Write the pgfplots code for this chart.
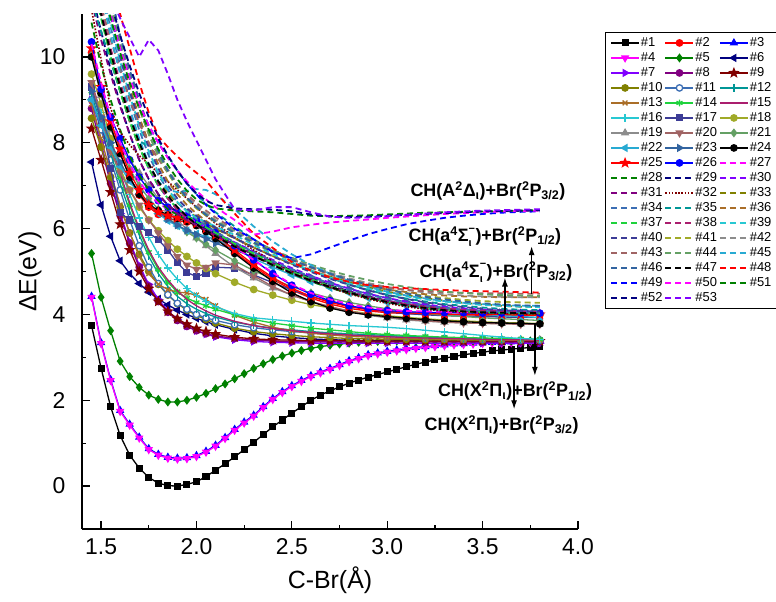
\documentclass[border=0pt]{standalone}
\usepackage{fontspec}
\setmainfont{Liberation Sans}
\usepackage{pgfplots}
\pgfplotsset{compat=1.18}
\usetikzlibrary{arrows.meta,plotmarks}

\definecolor{c1}{RGB}{0,0,0}
\definecolor{c2}{RGB}{255,0,0}
\definecolor{c3}{RGB}{0,0,255}
\definecolor{c4}{RGB}{255,0,255}
\definecolor{c5}{RGB}{0,128,0}
\definecolor{c6}{RGB}{0,0,128}
\definecolor{c7}{RGB}{128,0,255}
\definecolor{c8}{RGB}{128,0,128}
\definecolor{c9}{RGB}{128,0,0}
\definecolor{c10}{RGB}{128,128,0}
\definecolor{c11}{RGB}{60,110,180}
\definecolor{c12}{RGB}{0,150,150}
\definecolor{c13}{RGB}{170,110,40}
\definecolor{c14}{RGB}{30,210,60}
\definecolor{c15}{RGB}{170,30,110}
\definecolor{c16}{RGB}{40,200,210}
\definecolor{c17}{RGB}{60,60,150}
\definecolor{c18}{RGB}{160,170,40}
\definecolor{c19}{RGB}{140,140,140}
\definecolor{c20}{RGB}{160,100,100}
\definecolor{c21}{RGB}{100,160,100}
\definecolor{c22}{RGB}{40,170,210}
\definecolor{c23}{RGB}{50,100,160}

\pgfdeclareplotmark{fstar}{%
  \pgfpathmoveto{\pgfpointpolar{90}{1.3\pgfplotmarksize}}%
  \pgfpathlineto{\pgfpointpolar{126}{0.55\pgfplotmarksize}}%
  \pgfpathlineto{\pgfpointpolar{162}{1.3\pgfplotmarksize}}%
  \pgfpathlineto{\pgfpointpolar{198}{0.55\pgfplotmarksize}}%
  \pgfpathlineto{\pgfpointpolar{234}{1.3\pgfplotmarksize}}%
  \pgfpathlineto{\pgfpointpolar{270}{0.55\pgfplotmarksize}}%
  \pgfpathlineto{\pgfpointpolar{306}{1.3\pgfplotmarksize}}%
  \pgfpathlineto{\pgfpointpolar{342}{0.55\pgfplotmarksize}}%
  \pgfpathlineto{\pgfpointpolar{18}{1.3\pgfplotmarksize}}%
  \pgfpathlineto{\pgfpointpolar{54}{0.55\pgfplotmarksize}}%
  \pgfpathclose
  \pgfusepathqfillstroke}

% stacked super/subscript (Sigma^- with iota below)
\newcommand\sps[2]{\rlap{\raisebox{0.52em}{\fontsize{11}{11}\selectfont #1}}\raisebox{-0.3em}{\makebox[0.38em][l]{\fontsize{11}{11}\selectfont #2}}}

\pgfplotsset{
  mk/.style={line width=1.3bp, mark size=3.2bp},
  dsh/.style={line width=1.8bp, dash pattern=on 6bp off 4bp},
}

\begin{document}
\begin{tikzpicture}
\begin{axis}[
  at={(0,0)}, anchor=south west,
  scale only axis,
  width=496bp, height=515bp,
  xmin=1.4, xmax=4.0, ymin=-1, ymax=11,
  axis x line*=bottom, axis y line*=left,
  axis line style={line width=1.2bp},
  xtick={1.5,2.0,...,4.0}, ytick={0,2,...,10},
  minor x tick num=1, minor y tick num=1,
  tick align=inside,
  major tick length=8bp, minor tick length=4.5bp,
  tick style={line width=1.2bp, black},
  /pgf/number format/assume math mode=true,
  tick label style={font=\fontsize{23}{23}\selectfont},
  xticklabel style={yshift=-6bp, /pgf/number format/fixed, /pgf/number format/fixed zerofill, /pgf/number format/precision=1},
  yticklabel style={xshift=-13bp},
  label style={font=\fontsize{25}{25}\selectfont},
  xlabel={C-Br(Å)}, ylabel={ΔE(eV)},
  xlabel style={at={(axis description cs:0.5,-0.10)}, anchor=center},
  ylabel style={at={(axis description cs:-0.105,0.5)}, anchor=center},
  clip mode=individual,
  legend columns=3,
  legend cell align=left,
  legend image code/.code={\draw[mark repeat=2,mark phase=2] plot coordinates {(0bp,0bp) (14bp,0bp) (28bp,0bp)};},
  legend style={at={(axis description cs:1.054,0.965)}, anchor=north west,
    font=\fontsize{13}{13}\selectfont, draw=black, line width=0.8bp,
    inner xsep=5bp, inner ysep=3bp,
    nodes={inner sep=1bp, text height=10bp, text depth=3bp},
    /tikz/every even column/.append style={column sep=1bp}},
  legend entries={\#1,\#2,\#3,\#4,\#5,\#6,\#7,\#8,\#9,\#10,\#11,\#12,\#13,\#14,\#15,\#16,\#17,\#18,\#19,\#20,\#21,\#22,\#23,\#24,\#25,\#26,\#27,\#28,\#29,\#30,\#31,\#32,\#33,\#34,\#35,\#36,\#37,\#38,\#39,\#40,\#41,\#42,\#43,\#44,\#45,\#46,\#47,\#48,\#49,\#50,\#51,\#52,\#53},
]
% #1
\addplot[mk, c1, mark=square*, mark size=2.9bp] coordinates {(1.45,3.74)(1.5,2.75)(1.55,1.85)(1.6,1.18)(1.65,0.72)(1.7,0.42)(1.75,0.20)(1.8,0.07)(1.85,0.01)(1.9,0.00)(1.95,0.04)(2,0.10)(2.05,0.22)(2.1,0.37)(2.15,0.52)(2.2,0.68)(2.25,0.85)(2.3,1.02)(2.35,1.20)(2.4,1.38)(2.45,1.54)(2.5,1.70)(2.55,1.85)(2.6,2.00)(2.65,2.12)(2.7,2.22)(2.75,2.31)(2.8,2.40)(2.85,2.47)(2.9,2.54)(2.95,2.60)(3,2.66)(3.05,2.72)(3.1,2.78)(3.15,2.84)(3.2,2.89)(3.25,2.94)(3.3,2.98)(3.35,3.02)(3.4,3.06)(3.45,3.09)(3.5,3.12)(3.55,3.15)(3.6,3.17)(3.65,3.19)(3.7,3.21)(3.75,3.23)(3.8,3.25)};
% #2
\addplot[mk, c2, mark=*] coordinates {(1.45,10.1)(1.5,9.2)(1.55,8.4)(1.6,7.75)(1.65,7.2)(1.7,6.78)(1.75,6.5)(1.8,6.33)(1.85,6.25)(1.9,6.18)(1.95,6.15)(2,6.08)(2.05,5.95)(2.1,5.80)(2.2,5.45)(2.3,5.12)(2.4,4.82)(2.5,4.57)(2.6,4.38)(2.7,4.24)(2.8,4.14)(2.9,4.08)(3,4.04)(3.1,4.02)(3.2,4.00)(3.3,3.99)(3.4,3.99)(3.5,3.98)(3.6,3.98)(3.7,3.98)(3.8,3.98)};
% #3
\addplot[mk, c3, mark=triangle*, mark size=3.6bp] coordinates {(1.45,4.42)(1.5,3.34)(1.55,2.48)(1.6,1.76)(1.65,1.44)(1.7,1.14)(1.75,0.87)(1.8,0.74)(1.85,0.67)(1.9,0.65)(1.95,0.66)(2,0.71)(2.05,0.81)(2.1,0.95)(2.15,1.13)(2.2,1.32)(2.25,1.49)(2.3,1.65)(2.35,1.85)(2.4,2.04)(2.45,2.20)(2.5,2.34)(2.55,2.46)(2.6,2.57)(2.65,2.66)(2.7,2.74)(2.75,2.83)(2.8,2.92)(2.85,2.99)(2.9,3.06)(2.95,3.10)(3,3.14)(3.05,3.17)(3.1,3.20)(3.15,3.23)(3.2,3.25)(3.25,3.27)(3.3,3.29)(3.35,3.31)(3.4,3.32)(3.45,3.33)(3.5,3.34)(3.55,3.35)(3.6,3.35)(3.65,3.36)(3.7,3.36)(3.75,3.37)(3.8,3.37)};
% #4
\addplot[mk, c4, mark=triangle*, mark size=3.6bp, mark options={rotate=180}] coordinates {(1.45,4.40)(1.5,3.32)(1.55,2.46)(1.6,1.74)(1.65,1.42)(1.7,1.12)(1.75,0.85)(1.8,0.72)(1.85,0.65)(1.9,0.63)(1.95,0.64)(2,0.69)(2.05,0.79)(2.1,0.93)(2.15,1.11)(2.2,1.30)(2.25,1.47)(2.3,1.63)(2.35,1.83)(2.4,2.02)(2.45,2.18)(2.5,2.32)(2.55,2.44)(2.6,2.55)(2.65,2.64)(2.7,2.72)(2.75,2.81)(2.8,2.90)(2.85,2.97)(2.9,3.04)(2.95,3.08)(3,3.12)(3.05,3.15)(3.1,3.18)(3.15,3.21)(3.2,3.23)(3.25,3.25)(3.3,3.27)(3.35,3.29)(3.4,3.30)(3.45,3.31)(3.5,3.32)(3.55,3.33)(3.6,3.33)(3.65,3.34)(3.7,3.34)(3.75,3.35)(3.8,3.35)};
% #5
\addplot[mk, c5, mark=diamond*, mark size=3.5bp] coordinates {(1.45,5.42)(1.5,4.40)(1.55,3.62)(1.6,2.91)(1.65,2.55)(1.7,2.30)(1.75,2.12)(1.8,2.02)(1.85,1.96)(1.9,1.96)(1.95,2.00)(2,2.07)(2.05,2.16)(2.1,2.27)(2.15,2.38)(2.2,2.50)(2.25,2.62)(2.3,2.74)(2.35,2.85)(2.4,2.95)(2.45,3.03)(2.5,3.10)(2.55,3.16)(2.6,3.21)(2.65,3.25)(2.7,3.28)(2.75,3.31)(2.8,3.33)(2.85,3.35)(2.9,3.36)(2.95,3.37)(3,3.37)(3.05,3.38)(3.1,3.38)(3.15,3.38)(3.2,3.38)(3.25,3.38)(3.3,3.38)(3.35,3.38)(3.4,3.38)(3.45,3.38)(3.5,3.38)(3.55,3.38)(3.6,3.38)(3.65,3.38)(3.7,3.38)(3.75,3.38)(3.8,3.38)};
% #6
\addplot[mk, c6, mark=triangle*, mark size=3.6bp, mark options={rotate=90}] coordinates {(1.45,7.55)(1.5,6.55)(1.55,5.82)(1.6,5.25)(1.65,4.95)(1.7,4.72)(1.75,4.52)(1.8,4.36)(1.85,4.22)(1.9,4.10)(1.95,4.00)(2,3.91)(2.05,3.83)(2.1,3.76)(2.2,3.65)(2.3,3.56)(2.4,3.50)(2.5,3.46)(2.6,3.43)(2.7,3.41)(2.8,3.40)(2.9,3.39)(3,3.38)(3.1,3.38)(3.2,3.37)(3.3,3.37)(3.4,3.37)(3.5,3.37)(3.6,3.37)(3.7,3.37)(3.8,3.37)};
% #7
\addplot[mk, c7, mark=triangle*, mark size=3.6bp, mark options={rotate=-90}] coordinates {(1.45,9.00)(1.5,8.00)(1.55,7.10)(1.6,6.35)(1.65,5.70)(1.7,5.15)(1.75,4.70)(1.8,4.35)(1.85,4.08)(1.9,3.88)(1.95,3.73)(2,3.62)(2.05,3.54)(2.1,3.48)(2.2,3.41)(2.3,3.37)(2.4,3.35)(2.5,3.34)(2.6,3.33)(2.7,3.33)(2.8,3.33)(2.9,3.33)(3,3.33)(3.1,3.33)(3.2,3.33)(3.3,3.33)(3.4,3.33)(3.5,3.33)(3.6,3.33)(3.7,3.33)(3.8,3.33)};
% #8
\addplot[mk, c8, mark=*] coordinates {(1.45,8.80)(1.5,7.90)(1.55,7.05)(1.6,6.30)(1.65,5.65)(1.7,5.10)(1.75,4.65)(1.8,4.30)(1.85,4.05)(1.9,3.86)(1.95,3.72)(2,3.62)(2.05,3.55)(2.1,3.50)(2.2,3.44)(2.3,3.40)(2.4,3.38)(2.5,3.37)(2.6,3.36)(2.7,3.36)(2.8,3.36)(2.9,3.36)(3,3.36)(3.1,3.36)(3.2,3.36)(3.3,3.36)(3.4,3.36)(3.5,3.36)(3.6,3.36)(3.7,3.36)(3.8,3.36)};
% #9
\addplot[mk, c9, mark=fstar] coordinates {(1.45,8.33)(1.5,7.60)(1.55,6.85)(1.6,6.10)(1.65,5.50)(1.7,5.00)(1.75,4.60)(1.8,4.30)(1.85,4.07)(1.9,3.90)(1.95,3.77)(2,3.67)(2.05,3.60)(2.1,3.54)(2.2,3.47)(2.3,3.43)(2.4,3.41)(2.5,3.40)(2.6,3.39)(2.7,3.39)(2.8,3.39)(2.9,3.38)(3,3.38)(3.1,3.38)(3.2,3.38)(3.3,3.38)(3.4,3.38)(3.5,3.38)(3.6,3.38)(3.7,3.38)(3.8,3.38)};
% #10
\addplot[mk, c10, mark=*] coordinates {(1.45,8.57)(1.5,7.90)(1.55,7.20)(1.6,6.50)(1.65,5.90)(1.7,5.40)(1.75,5.00)(1.8,4.70)(1.85,4.45)(1.9,4.25)(1.95,4.10)(2,3.98)(2.05,3.88)(2.1,3.80)(2.2,3.68)(2.3,3.60)(2.4,3.55)(2.5,3.51)(2.6,3.48)(2.7,3.46)(2.8,3.44)(2.9,3.43)(3,3.42)(3.1,3.42)(3.2,3.41)(3.3,3.41)(3.4,3.41)(3.5,3.40)(3.6,3.40)(3.7,3.40)(3.8,3.40)};
% #11
\addplot[mk, c11, mark=*, mark options={fill=white}] coordinates {(1.45,9.00)(1.5,8.30)(1.55,7.60)(1.6,6.90)(1.65,6.20)(1.7,5.60)(1.75,5.10)(1.8,4.72)(1.85,4.46)(1.9,4.26)(1.95,4.12)(2,4.00)(2.05,3.92)(2.1,3.86)(2.2,3.76)(2.3,3.69)(2.4,3.64)(2.5,3.60)(2.6,3.57)(2.7,3.54)(2.8,3.52)(2.9,3.50)(3,3.48)(3.1,3.47)(3.2,3.45)(3.3,3.44)(3.4,3.43)(3.5,3.42)(3.6,3.41)(3.7,3.40)(3.8,3.40)};
% #12
\addplot[mk, c12, mark=|, mark size=3.8bp] coordinates {(1.45,9.10)(1.5,8.45)(1.55,7.75)(1.6,7.05)(1.65,6.40)(1.7,5.85)(1.75,5.35)(1.8,4.95)(1.85,4.65)(1.9,4.42)(1.95,4.25)(2,4.12)(2.05,4.02)(2.1,3.94)(2.2,3.82)(2.3,3.74)(2.4,3.68)(2.5,3.64)(2.6,3.60)(2.7,3.57)(2.8,3.55)(2.9,3.53)(3,3.51)(3.1,3.49)(3.2,3.47)(3.3,3.46)(3.4,3.45)(3.5,3.44)(3.6,3.43)(3.7,3.42)(3.8,3.41)};
% #13
\addplot[mk, c13, mark=x, mark size=3.4bp] coordinates {(1.45,8.90)(1.5,8.10)(1.55,7.30)(1.6,6.55)(1.65,5.90)(1.7,5.35)(1.75,4.95)(1.8,4.70)(1.85,4.58)(1.9,4.52)(1.95,4.50)(2,4.45)(2.05,4.35)(2.1,4.20)(2.2,3.98)(2.3,3.82)(2.4,3.70)(2.5,3.62)(2.6,3.56)(2.7,3.52)(2.8,3.49)(2.9,3.47)(3,3.45)(3.1,3.44)(3.2,3.43)(3.3,3.42)(3.4,3.41)(3.5,3.41)(3.6,3.40)(3.7,3.40)(3.8,3.40)};
% #14
\addplot[mk, c14, mark=asterisk, mark size=3.4bp] coordinates {(1.45,9.20)(1.5,8.60)(1.55,7.90)(1.6,7.20)(1.65,6.55)(1.7,5.95)(1.75,5.45)(1.8,5.05)(1.85,4.75)(1.9,4.52)(1.95,4.38)(2,4.28)(2.05,4.20)(2.1,4.12)(2.2,3.99)(2.3,3.88)(2.4,3.80)(2.5,3.74)(2.6,3.68)(2.7,3.64)(2.8,3.60)(2.9,3.56)(3,3.53)(3.1,3.51)(3.2,3.49)(3.3,3.47)(3.4,3.46)(3.5,3.45)(3.6,3.44)(3.7,3.43)(3.8,3.42)};
% #15
\addplot[mk, c15] coordinates {(1.45,9.40)(1.5,8.70)(1.55,8.00)(1.6,7.30)(1.65,6.60)(1.7,6.00)(1.75,5.50)(1.8,5.10)(1.85,4.80)(1.9,4.55)(1.95,4.35)(2,4.20)(2.05,4.08)(2.1,3.98)(2.2,3.84)(2.3,3.74)(2.4,3.67)(2.5,3.62)(2.6,3.58)(2.7,3.55)(2.8,3.52)(2.9,3.50)(3,3.48)(3.1,3.46)(3.2,3.45)(3.3,3.44)(3.4,3.43)(3.5,3.42)(3.6,3.41)(3.7,3.41)(3.8,3.40)};
% #16
\addplot[mk, c16, mark=+, mark size=3.8bp] coordinates {(1.45,9.30)(1.5,8.70)(1.55,8.05)(1.6,7.40)(1.65,6.80)(1.7,6.25)(1.75,5.80)(1.8,5.40)(1.85,5.08)(1.9,4.82)(1.95,4.60)(2,4.44)(2.05,4.30)(2.1,4.18)(2.2,4.02)(2.3,3.92)(2.4,3.88)(2.5,3.84)(2.6,3.80)(2.7,3.77)(2.8,3.74)(2.9,3.72)(3,3.70)(3.1,3.67)(3.2,3.63)(3.3,3.59)(3.4,3.55)(3.5,3.51)(3.6,3.47)(3.7,3.44)(3.8,3.42)};
% #17
\addplot[mk, c17, mark=square*, mark size=2.9bp] coordinates {(1.45,9.30)(1.5,8.50)(1.55,7.40)(1.6,6.37)(1.65,6.20)(1.7,6.05)(1.75,5.90)(1.8,5.74)(1.85,5.50)(1.9,5.20)(1.95,4.98)(2,4.88)(2.05,4.96)(2.1,5.10)(2.2,5.08)(2.3,4.92)(2.4,4.74)(2.5,4.57)(2.6,4.42)(2.7,4.30)(2.8,4.20)(2.9,4.12)(3,4.06)(3.1,4.02)(3.2,3.99)(3.3,3.97)(3.4,3.96)(3.5,3.95)(3.6,3.94)(3.7,3.93)(3.8,3.93)};
% #18
\addplot[mk, c18, mark=*] coordinates {(1.45,9.60)(1.5,8.90)(1.55,8.10)(1.6,7.40)(1.65,6.90)(1.7,6.50)(1.75,6.20)(1.8,5.95)(1.85,5.72)(1.9,5.52)(1.95,5.35)(2,5.20)(2.05,5.07)(2.1,4.95)(2.2,4.75)(2.3,4.58)(2.4,4.45)(2.5,4.33)(2.6,4.23)(2.7,4.15)(2.8,4.08)(2.9,4.02)(3,3.97)(3.1,3.93)(3.2,3.90)(3.3,3.87)(3.4,3.85)(3.5,3.83)(3.6,3.81)(3.7,3.80)(3.8,3.79)};
% #19
\addplot[mk, c19, mark=triangle*, mark size=3.6bp] coordinates {(1.45,10.00)(1.5,9.10)(1.55,8.30)(1.6,7.90)(1.65,7.60)(1.7,7.30)(1.75,7.00)(1.8,6.70)(1.85,6.45)(1.9,6.20)(1.95,5.98)(2,5.78)(2.05,5.60)(2.1,5.42)(2.2,5.10)(2.3,4.85)(2.4,4.62)(2.5,4.45)(2.6,4.30)(2.7,4.18)(2.8,4.07)(2.9,3.98)(3,3.92)(3.1,3.87)(3.2,3.84)(3.3,3.82)(3.4,3.80)(3.5,3.79)(3.6,3.79)(3.7,3.78)(3.8,3.78)};
% #20
\addplot[mk, c20, mark=triangle*, mark size=3.6bp, mark options={rotate=180}] coordinates {(1.45,9.40)(1.5,8.60)(1.55,7.80)(1.6,7.30)(1.65,6.90)(1.7,6.55)(1.75,6.20)(1.8,5.90)(1.85,5.60)(1.9,5.35)(1.95,5.15)(2,5.05)(2.05,5.10)(2.1,5.20)(2.2,5.15)(2.3,4.90)(2.4,4.65)(2.5,4.45)(2.6,4.30)(2.7,4.18)(2.8,4.08)(2.9,4.00)(3,3.94)(3.1,3.89)(3.2,3.85)(3.3,3.82)(3.4,3.80)(3.5,3.79)(3.6,3.78)(3.7,3.77)(3.8,3.77)};
% #21
\addplot[mk, c21, mark=diamond*, mark size=3.5bp] coordinates {(1.45,10.05)(1.5,9.20)(1.55,8.50)(1.6,7.90)(1.65,7.40)(1.7,7.00)(1.75,6.70)(1.8,6.45)(1.85,6.25)(1.9,6.08)(1.95,5.92)(2,5.78)(2.05,5.64)(2.1,5.50)(2.2,5.25)(2.3,5.02)(2.4,4.82)(2.5,4.65)(2.6,4.50)(2.7,4.38)(2.8,4.28)(2.9,4.20)(3,4.13)(3.1,4.07)(3.2,4.02)(3.3,3.98)(3.4,3.95)(3.5,3.92)(3.6,3.90)(3.7,3.88)(3.8,3.86)};
% #22
\addplot[mk, c22, mark=triangle*, mark size=3.6bp, mark options={rotate=90}] coordinates {(1.45,9.00)(1.5,8.40)(1.55,7.90)(1.6,7.45)(1.65,7.10)(1.7,6.80)(1.75,6.55)(1.8,6.35)(1.85,6.18)(1.9,6.06)(1.95,5.95)(2,5.88)(2.05,5.82)(2.1,5.75)(2.2,5.55)(2.3,5.30)(2.4,5.10)(2.5,4.92)(2.6,4.76)(2.7,4.62)(2.8,4.50)(2.9,4.38)(3,4.28)(3.1,4.20)(3.2,4.13)(3.3,4.07)(3.4,4.03)(3.5,4.00)(3.6,3.97)(3.7,3.95)(3.8,3.93)};
% #23
\addplot[mk, c23, mark=triangle*, mark size=3.6bp, mark options={rotate=-90}] coordinates {(1.45,9.20)(1.5,8.60)(1.55,8.00)(1.6,7.55)(1.65,7.15)(1.7,6.85)(1.75,6.60)(1.8,6.40)(1.85,6.22)(1.9,6.08)(1.95,5.96)(2,5.86)(2.05,5.76)(2.1,5.66)(2.2,5.50)(2.3,5.34)(2.4,5.18)(2.5,5.02)(2.6,4.87)(2.7,4.73)(2.8,4.60)(2.9,4.48)(3,4.38)(3.1,4.29)(3.2,4.22)(3.3,4.16)(3.4,4.11)(3.5,4.07)(3.6,4.04)(3.7,4.02)(3.8,4.01)};
% #24
\addplot[mk, c1, mark=*] coordinates {(1.45,10.00)(1.5,9.15)(1.55,8.37)(1.6,7.75)(1.65,7.20)(1.7,6.80)(1.75,6.55)(1.8,6.42)(1.85,6.32)(1.9,6.24)(1.95,6.17)(2,6.07)(2.05,5.93)(2.1,5.77)(2.2,5.42)(2.3,5.08)(2.4,4.77)(2.5,4.50)(2.6,4.30)(2.7,4.15)(2.8,4.05)(2.9,3.99)(3,3.95)(3.1,3.91)(3.2,3.88)(3.3,3.85)(3.4,3.83)(3.5,3.81)(3.6,3.80)(3.7,3.79)(3.8,3.78)};
% #25
\addplot[mk, c2, mark=fstar] coordinates {(1.45,10.20)(1.5,9.30)(1.55,8.50)(1.6,7.85)(1.65,7.30)(1.7,6.90)(1.75,6.55)(1.8,6.38)(1.85,6.30)(1.9,6.25)(1.95,6.20)(2,6.12)(2.05,6.00)(2.1,5.85)(2.2,5.50)(2.3,5.16)(2.4,4.86)(2.5,4.61)(2.6,4.42)(2.7,4.28)(2.8,4.18)(2.9,4.11)(3,4.07)(3.1,4.04)(3.2,4.02)(3.3,4.01)(3.4,4.00)(3.5,4.00)(3.6,4.00)(3.7,4.00)(3.8,4.00)};
% #26
\addplot[mk, c3, mark=*] coordinates {(1.45,10.35)(1.5,9.25)(1.55,8.60)(1.6,8.10)(1.65,7.60)(1.7,7.20)(1.75,6.90)(1.8,6.65)(1.85,6.50)(1.9,6.40)(1.95,6.30)(2,6.20)(2.05,6.07)(2.1,5.93)(2.2,5.60)(2.3,5.27)(2.4,4.95)(2.5,4.68)(2.6,4.47)(2.7,4.32)(2.8,4.20)(2.9,4.13)(3,4.09)(3.1,4.06)(3.2,4.05)(3.3,4.04)(3.4,4.04)(3.5,4.03)(3.6,4.03)(3.7,4.03)(3.8,4.03)};
% #27
\addplot[dsh, c4] coordinates {(1.45,10.30)(1.5,9.40)(1.55,8.60)(1.6,8.00)(1.65,7.50)(1.7,7.10)(1.75,6.80)(1.8,6.60)(1.85,6.45)(1.9,6.35)(1.95,6.25)(2,6.15)(2.05,6.02)(2.1,5.88)(2.2,5.58)(2.3,5.27)(2.4,4.97)(2.5,4.70)(2.6,4.50)(2.7,4.35)(2.8,4.24)(2.9,4.16)(3,4.11)(3.1,4.08)(3.2,4.07)(3.3,4.06)(3.4,4.05)(3.5,4.05)(3.6,4.05)(3.7,4.05)(3.8,4.05)};
% #28
\addplot[dsh, c5] coordinates {(1.45,10.80)(1.5,9.80)(1.55,9.00)(1.6,8.30)(1.65,7.70)(1.7,7.25)(1.75,6.90)(1.8,6.65)(1.85,6.45)(1.9,6.32)(1.95,6.20)(2,6.10)(2.05,5.98)(2.1,5.86)(2.2,5.62)(2.3,5.38)(2.4,5.15)(2.5,4.95)(2.6,4.77)(2.7,4.62)(2.8,4.49)(2.9,4.38)(3,4.29)(3.1,4.22)(3.2,4.16)(3.3,4.12)(3.4,4.09)(3.5,4.07)(3.6,4.06)(3.7,4.05)(3.8,4.05)};
% #29
\addplot[dsh, c6] coordinates {(1.45,11.50)(1.5,10.60)(1.55,9.70)(1.6,8.90)(1.65,8.20)(1.7,7.60)(1.75,7.15)(1.8,6.80)(1.85,6.55)(1.9,6.38)(1.95,6.24)(2,6.12)(2.05,6.00)(2.1,5.88)(2.2,5.66)(2.3,5.44)(2.4,5.22)(2.5,5.02)(2.6,4.84)(2.7,4.68)(2.8,4.54)(2.9,4.42)(3,4.32)(3.1,4.24)(3.2,4.18)(3.3,4.13)(3.4,4.10)(3.5,4.08)(3.6,4.06)(3.7,4.05)(3.8,4.05)};
% #30
\addplot[dsh, c7] coordinates {(1.45,12.00)(1.5,11.00)(1.55,10.00)(1.6,9.20)(1.65,8.50)(1.7,7.90)(1.75,7.40)(1.8,7.00)(1.85,6.70)(1.9,6.48)(1.95,6.30)(2,6.15)(2.05,6.02)(2.1,5.90)(2.2,5.68)(2.3,5.47)(2.4,5.27)(2.5,5.08)(2.6,4.90)(2.7,4.74)(2.8,4.60)(2.9,4.48)(3,4.38)(3.1,4.30)(3.2,4.23)(3.3,4.18)(3.4,4.14)(3.5,4.11)(3.6,4.09)(3.7,4.08)(3.8,4.07)};
% #31
\addplot[dsh, c8] coordinates {(1.45,11.30)(1.5,10.40)(1.55,9.60)(1.6,8.85)(1.65,8.20)(1.7,7.60)(1.75,7.15)(1.8,6.80)(1.85,6.55)(1.9,6.35)(1.95,6.20)(2,6.08)(2.05,5.96)(2.1,5.84)(2.2,5.62)(2.3,5.40)(2.4,5.20)(2.5,5.00)(2.6,4.83)(2.7,4.67)(2.8,4.53)(2.9,4.41)(3,4.31)(3.1,4.23)(3.2,4.17)(3.3,4.12)(3.4,4.09)(3.5,4.06)(3.6,4.04)(3.7,4.03)(3.8,4.02)};
% #32
\addplot[c9, line width=1.6bp, dash pattern=on 1.6bp off 1.6bp] coordinates {(1.45,11.10)(1.5,9.95)(1.55,8.80)(1.6,8.25)(1.65,7.95)(1.7,7.70)(1.75,7.50)(1.8,7.30)(1.85,7.10)(1.9,6.90)(1.95,6.70)(2,6.50)(2.05,6.30)(2.1,6.12)(2.2,5.80)(2.3,5.50)(2.4,5.24)(2.5,5.00)(2.6,4.80)(2.7,4.63)(2.8,4.48)(2.9,4.36)(3,4.26)(3.1,4.18)(3.2,4.12)(3.3,4.08)(3.4,4.05)(3.5,4.03)(3.6,4.02)(3.7,4.01)(3.8,4.01)};
% #33
\addplot[dsh, c10] coordinates {(1.45,12.00)(1.5,11.00)(1.55,10.00)(1.6,9.20)(1.65,8.50)(1.7,7.90)(1.75,7.45)(1.8,7.10)(1.85,6.82)(1.9,6.60)(1.95,6.42)(2,6.27)(2.05,6.13)(2.1,6.00)(2.2,5.77)(2.3,5.56)(2.4,5.36)(2.5,5.18)(2.6,5.02)(2.7,4.88)(2.8,4.75)(2.9,4.63)(3,4.53)(3.1,4.45)(3.2,4.38)(3.3,4.32)(3.4,4.27)(3.5,4.23)(3.6,4.20)(3.7,4.18)(3.8,4.17)};
% #34
\addplot[dsh, c11] coordinates {(1.45,12.50)(1.5,11.60)(1.55,10.70)(1.6,9.80)(1.65,9.00)(1.7,8.30)(1.75,7.70)(1.8,7.25)(1.85,6.90)(1.9,6.62)(1.95,6.40)(2,6.22)(2.05,6.07)(2.1,5.93)(2.2,5.68)(2.3,5.45)(2.4,5.24)(2.5,5.05)(2.6,4.88)(2.7,4.72)(2.8,4.58)(2.9,4.46)(3,4.36)(3.1,4.27)(3.2,4.20)(3.3,4.15)(3.4,4.11)(3.5,4.08)(3.6,4.06)(3.7,4.05)(3.8,4.04)};
% #35
\addplot[dsh, c12] coordinates {(1.45,11.30)(1.5,10.60)(1.55,9.90)(1.6,9.20)(1.65,8.55)(1.7,8.05)(1.75,7.90)(1.8,8.05)(1.85,7.70)(1.9,7.35)(1.95,7.05)(2,6.80)(2.05,6.58)(2.1,6.38)(2.2,6.05)(2.3,5.75)(2.4,5.48)(2.5,5.24)(2.6,5.03)(2.7,4.85)(2.8,4.70)(2.9,4.57)(3,4.46)(3.1,4.37)(3.2,4.30)(3.3,4.24)(3.4,4.20)(3.5,4.16)(3.6,4.13)(3.7,4.11)(3.8,4.10)};
% #36
\addplot[dsh, c13] coordinates {(1.45,13.00)(1.5,12.00)(1.55,11.00)(1.6,10.10)(1.65,9.30)(1.7,8.60)(1.75,8.00)(1.8,7.50)(1.85,7.10)(1.9,6.80)(1.95,6.55)(2,6.35)(2.05,6.18)(2.1,6.03)(2.2,5.78)(2.3,5.56)(2.4,5.36)(2.5,5.18)(2.6,5.02)(2.7,4.88)(2.8,4.76)(2.9,4.66)(3,4.58)(3.1,4.52)(3.2,4.47)(3.3,4.44)(3.4,4.42)(3.5,4.41)(3.6,4.40)(3.7,4.40)(3.8,4.40)};
% #37
\addplot[dsh, c14] coordinates {(1.45,11.80)(1.5,10.90)(1.55,10.00)(1.6,9.20)(1.65,8.50)(1.7,7.90)(1.75,7.40)(1.8,7.00)(1.85,6.70)(1.9,6.47)(1.95,6.30)(2,6.16)(2.05,6.03)(2.1,5.90)(2.2,5.65)(2.3,5.42)(2.4,5.20)(2.5,5.00)(2.6,4.82)(2.7,4.66)(2.8,4.52)(2.9,4.40)(3,4.30)(3.1,4.22)(3.2,4.16)(3.3,4.11)(3.4,4.07)(3.5,4.05)(3.6,4.03)(3.7,4.02)(3.8,4.02)};
% #38
\addplot[dsh, c15] coordinates {(1.45,12.00)(1.5,11.10)(1.55,10.20)(1.6,9.40)(1.65,8.70)(1.7,8.05)(1.75,7.50)(1.8,7.05)(1.85,6.70)(1.9,6.43)(1.95,6.23)(2,6.08)(2.05,5.95)(2.1,5.82)(2.2,5.58)(2.3,5.36)(2.4,5.15)(2.5,4.96)(2.6,4.79)(2.7,4.64)(2.8,4.51)(2.9,4.40)(3,4.31)(3.1,4.24)(3.2,4.18)(3.3,4.14)(3.4,4.11)(3.5,4.09)(3.6,4.08)(3.7,4.07)(3.8,4.07)};
% #39
\addplot[dsh, c16] coordinates {(1.45,12.80)(1.5,11.80)(1.55,10.80)(1.6,9.90)(1.65,9.10)(1.7,8.40)(1.75,7.80)(1.8,7.30)(1.85,6.92)(1.9,6.62)(1.95,6.40)(2,6.25)(2.05,6.15)(2.1,6.05)(2.2,5.85)(2.3,5.62)(2.4,5.40)(2.5,5.20)(2.6,5.02)(2.7,4.86)(2.8,4.72)(2.9,4.60)(3,4.50)(3.1,4.42)(3.2,4.35)(3.3,4.30)(3.4,4.26)(3.5,4.22)(3.6,4.20)(3.7,4.18)(3.8,4.17)};
% #40
\addplot[dsh, c17] coordinates {(1.45,13.00)(1.5,12.00)(1.55,11.00)(1.6,10.00)(1.65,9.20)(1.7,8.50)(1.75,7.90)(1.8,7.40)(1.85,7.00)(1.9,6.70)(1.95,6.47)(2,6.30)(2.05,6.15)(2.1,6.02)(2.2,5.78)(2.3,5.56)(2.4,5.35)(2.5,5.16)(2.6,4.99)(2.7,4.83)(2.8,4.69)(2.9,4.56)(3,4.45)(3.1,4.36)(3.2,4.28)(3.3,4.22)(3.4,4.17)(3.5,4.13)(3.6,4.10)(3.7,4.08)(3.8,4.07)};
% #41
\addplot[dsh, c18] coordinates {(1.45,13.00)(1.5,12.00)(1.55,11.20)(1.6,10.30)(1.65,9.50)(1.7,8.80)(1.75,8.20)(1.8,7.70)(1.85,7.30)(1.9,6.95)(1.95,6.68)(2,6.47)(2.05,6.30)(2.1,6.15)(2.2,5.90)(2.3,5.66)(2.4,5.45)(2.5,5.26)(2.6,5.09)(2.7,4.94)(2.8,4.80)(2.9,4.68)(3,4.58)(3.1,4.50)(3.2,4.43)(3.3,4.38)(3.4,4.34)(3.5,4.31)(3.6,4.29)(3.7,4.28)(3.8,4.27)};
% #42
\addplot[dsh, c19] coordinates {(1.45,13.00)(1.5,12.20)(1.55,11.30)(1.6,10.40)(1.65,9.60)(1.7,8.90)(1.75,8.30)(1.8,7.80)(1.85,7.38)(1.9,7.04)(1.95,6.76)(2,6.54)(2.05,6.36)(2.1,6.20)(2.2,5.94)(2.3,5.70)(2.4,5.48)(2.5,5.29)(2.6,5.12)(2.7,4.97)(2.8,4.84)(2.9,4.73)(3,4.64)(3.1,4.57)(3.2,4.51)(3.3,4.47)(3.4,4.44)(3.5,4.42)(3.6,4.41)(3.7,4.40)(3.8,4.40)};
% #43
\addplot[dsh, c20] coordinates {(1.45,12.00)(1.5,11.20)(1.55,10.40)(1.6,9.70)(1.65,9.00)(1.7,8.45)(1.75,8.00)(1.8,7.62)(1.85,7.30)(1.9,7.03)(1.95,6.80)(2,6.60)(2.05,6.42)(2.1,6.26)(2.2,5.98)(2.3,5.73)(2.4,5.50)(2.5,5.28)(2.6,5.09)(2.7,4.93)(2.8,4.80)(2.9,4.70)(3,4.62)(3.1,4.57)(3.2,4.54)(3.3,4.52)(3.4,4.50)(3.5,4.49)(3.6,4.49)(3.7,4.48)(3.8,4.48)};
% #44
\addplot[dsh, c21] coordinates {(1.45,13.00)(1.5,12.10)(1.55,11.20)(1.6,10.30)(1.65,9.50)(1.7,8.80)(1.75,8.20)(1.8,7.70)(1.85,7.30)(1.9,6.97)(1.95,6.70)(2,6.50)(2.05,6.33)(2.1,6.18)(2.2,5.93)(2.3,5.70)(2.4,5.50)(2.5,5.32)(2.6,5.16)(2.7,5.02)(2.8,4.90)(2.9,4.80)(3,4.71)(3.1,4.64)(3.2,4.58)(3.3,4.53)(3.4,4.50)(3.5,4.47)(3.6,4.45)(3.7,4.44)(3.8,4.43)};
% #45
\addplot[dsh, c22] coordinates {(1.45,12.50)(1.5,11.50)(1.55,10.50)(1.6,9.60)(1.65,8.80)(1.7,8.10)(1.75,7.50)(1.8,7.10)(1.85,6.90)(1.9,6.85)(1.95,6.88)(2,6.92)(2.05,6.90)(2.1,6.80)(2.2,6.45)(2.3,6.05)(2.4,5.70)(2.5,5.40)(2.6,5.15)(2.7,4.95)(2.8,4.78)(2.9,4.64)(3,4.53)(3.1,4.44)(3.2,4.37)(3.3,4.31)(3.4,4.27)(3.5,4.24)(3.6,4.22)(3.7,4.20)(3.8,4.20)};
% #46
\addplot[dsh, c23] coordinates {(1.45,13.50)(1.5,12.50)(1.55,11.50)(1.6,10.50)(1.65,9.70)(1.7,9.00)(1.75,8.35)(1.8,7.80)(1.85,7.35)(1.9,7.00)(1.95,6.72)(2,6.50)(2.05,6.32)(2.1,6.16)(2.2,5.90)(2.3,5.67)(2.4,5.46)(2.5,5.27)(2.6,5.10)(2.7,4.95)(2.8,4.81)(2.9,4.69)(3,4.58)(3.1,4.49)(3.2,4.41)(3.3,4.35)(3.4,4.30)(3.5,4.26)(3.6,4.23)(3.7,4.21)(3.8,4.20)};
% #47
\addplot[dsh, c1] coordinates {(1.45,12.00)(1.5,11.00)(1.55,10.10)(1.6,9.30)(1.65,8.60)(1.7,8.00)(1.75,7.50)(1.8,7.10)(1.85,6.77)(1.9,6.50)(1.95,6.28)(2,6.10)(2.05,5.95)(2.1,5.82)(2.2,5.58)(2.3,5.36)(2.4,5.15)(2.5,4.96)(2.6,4.79)(2.7,4.64)(2.8,4.51)(2.9,4.39)(3,4.29)(3.1,4.21)(3.2,4.15)(3.3,4.10)(3.4,4.07)(3.5,4.05)(3.6,4.04)(3.7,4.03)(3.8,4.03)};
% #48
\addplot[dsh, c2] coordinates {(1.45,14.50)(1.5,13.30)(1.55,12.20)(1.6,11.00)(1.65,10.20)(1.7,9.40)(1.75,8.70)(1.8,8.15)(1.85,7.90)(1.9,7.68)(1.95,7.48)(2,7.30)(2.05,7.12)(2.1,6.85)(2.2,6.35)(2.3,5.88)(2.4,5.55)(2.5,5.22)(2.6,5.02)(2.7,4.86)(2.8,4.76)(2.9,4.68)(3,4.64)(3.1,4.61)(3.2,4.59)(3.3,4.57)(3.4,4.55)(3.5,4.54)(3.6,4.53)(3.7,4.52)(3.8,4.51)};
% #49
\addplot[dsh, c3] coordinates {(1.45,13.00)(1.5,12.00)(1.55,11.00)(1.6,10.20)(1.65,9.50)(1.7,8.90)(1.75,8.40)(1.8,8.00)(1.85,7.65)(1.9,7.35)(1.95,7.05)(2,6.80)(2.05,6.55)(2.1,6.35)(2.2,6.00)(2.3,5.75)(2.4,5.45)(2.5,5.31)(2.6,5.40)(2.7,5.56)(2.8,5.72)(2.9,5.87)(3,5.99)(3.1,6.10)(3.2,6.18)(3.3,6.25)(3.4,6.30)(3.5,6.34)(3.6,6.37)(3.7,6.39)(3.8,6.40)};
% #50
\addplot[dsh, c4] coordinates {(1.45,13.00)(1.5,12.00)(1.55,11.00)(1.6,10.20)(1.65,9.50)(1.7,8.90)(1.75,8.40)(1.8,8.00)(1.85,7.65)(1.9,7.35)(1.95,7.10)(2,6.88)(2.05,6.68)(2.1,6.50)(2.2,6.20)(2.3,5.86)(2.4,5.93)(2.5,6.03)(2.6,6.09)(2.7,6.14)(2.8,6.18)(2.9,6.21)(3,6.25)(3.1,6.28)(3.2,6.31)(3.3,6.34)(3.4,6.36)(3.5,6.38)(3.6,6.40)(3.7,6.41)(3.8,6.42)};
% #51
\addplot[dsh, c5] coordinates {(1.45,12.80)(1.5,11.80)(1.55,10.90)(1.6,10.10)(1.65,9.40)(1.7,8.80)(1.75,8.30)(1.8,7.85)(1.85,7.48)(1.9,7.15)(1.95,6.88)(2,6.68)(2.05,6.55)(2.1,6.47)(2.2,6.42)(2.3,6.40)(2.4,6.38)(2.5,6.34)(2.6,6.30)(2.7,6.29)(2.8,6.30)(2.9,6.31)(3,6.33)(3.1,6.35)(3.2,6.37)(3.3,6.38)(3.4,6.39)(3.5,6.40)(3.6,6.41)(3.7,6.42)(3.8,6.43)};
% #52
\addplot[dsh, c6] coordinates {(1.45,13.20)(1.5,12.20)(1.55,11.30)(1.6,10.50)(1.65,9.80)(1.7,9.15)(1.75,8.60)(1.8,8.10)(1.85,7.70)(1.9,7.35)(1.95,7.05)(2,6.82)(2.05,6.65)(2.1,6.55)(2.2,6.47)(2.3,6.45)(2.4,6.44)(2.5,6.40)(2.6,6.33)(2.7,6.28)(2.8,6.27)(2.9,6.28)(3,6.30)(3.1,6.32)(3.2,6.34)(3.3,6.36)(3.4,6.38)(3.5,6.40)(3.6,6.41)(3.7,6.42)(3.8,6.43)};
% #53
\addplot[dsh, c7] coordinates {(1.45,13.00)(1.5,12.00)(1.55,11.40)(1.6,10.90)(1.65,10.45)(1.7,10.00)(1.75,10.40)(1.8,10.15)(1.85,9.60)(1.9,9.00)(1.95,8.50)(2,8.05)(2.05,7.60)(2.1,7.15)(2.2,6.45)(2.3,6.42)(2.4,6.50)(2.5,6.50)(2.6,6.38)(2.7,6.28)(2.8,6.25)(2.9,6.26)(3,6.29)(3.1,6.32)(3.2,6.35)(3.3,6.38)(3.4,6.40)(3.5,6.42)(3.6,6.43)(3.7,6.44)(3.8,6.45)};

% asymptote labels and arrows
\begin{scope}[every node/.style={font=\bfseries\fontsize{18}{18}\selectfont, inner sep=0pt}]
\node at (axis cs:3.528,6.88) {CH(A\textsuperscript{2}Δ\textsubscript{ι})+Br(\textsuperscript{2}P\textsubscript{3/2})};
\node at (axis cs:3.512,5.81) {CH(a\textsuperscript{4}Σ\sps{−}{ι})+Br(\textsuperscript{2}P\textsubscript{1/2})};
\node at (axis cs:3.570,4.98) {CH(a\textsuperscript{4}Σ\sps{−}{ι})+Br(\textsuperscript{2}P\textsubscript{3/2})};
\node at (axis cs:3.670,2.21) {CH(X\textsuperscript{2}Π\textsubscript{ι})+Br(\textsuperscript{2}P\textsubscript{1/2})};
\node at (axis cs:3.600,1.42) {CH(X\textsuperscript{2}Π\textsubscript{ι})+Br(\textsuperscript{2}P\textsubscript{3/2})};
\end{scope}
\draw[-{Latex[length=9bp,width=6bp]}, line width=1.3bp] (axis cs:3.617,4.00) -- (axis cs:3.617,4.86);
\draw[-{Latex[length=9bp,width=6bp]}, line width=1.3bp] (axis cs:3.757,4.47) -- (axis cs:3.757,5.59);
\draw[-{Latex[length=9bp,width=6bp]}, line width=1.3bp] (axis cs:3.774,3.81) -- (axis cs:3.774,2.57);
\draw[-{Latex[length=9bp,width=6bp]}, line width=1.3bp] (axis cs:3.665,3.23) -- (axis cs:3.665,1.79);
\end{axis}
\pgfresetboundingbox
\useasboundingbox (-82bp,-73bp) rectangle (694bp,529bp);
\end{tikzpicture}
\end{document}
